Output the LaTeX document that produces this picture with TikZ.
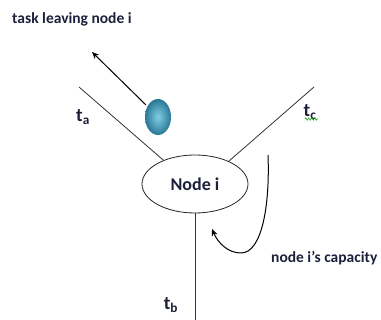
\documentclass[tikz,border=0pt]{standalone}
\usepackage{fontspec}
\setmainfont{Carlito}
\usetikzlibrary{shapes.geometric,arrows.meta,decorations.pathmorphing}
\definecolor{txt}{RGB}{28,32,58}
\definecolor{balldark}{RGB}{40,120,150}
\definecolor{balllight}{RGB}{130,205,228}
\definecolor{spell}{RGB}{40,160,40}
\tikzset{
  lbl/.style={font=\fontsize{15.5}{17}\selectfont\bfseries, text=txt, inner sep=0pt},
  tlbl/.style={font=\fontsize{19}{22}\selectfont\bfseries, text=txt, inner sep=0pt},
  edge/.style={draw=black!80, line width=0.8pt},
  arr/.style={draw=black, line width=1pt, -{Stealth[length=7pt,width=6pt]}},
}
\begin{document}
\begin{tikzpicture}[x=1pt,y=-1pt]
\useasboundingbox (0,0) rectangle (381,320);
% main node
\node[ellipse, draw=black!85, line width=0.8pt, minimum width=106pt, minimum height=58pt, inner sep=0pt,
      font=\fontsize{18}{20}\selectfont\bfseries, text=txt] (n) at (195,184) {Node i};
% free ends
\coordinate (ta1) at (79,87);
\coordinate (tc1) at (314,87);
\coordinate (tb1) at (195,320);
\draw[edge] (ta1) -- (n.143);
\draw[edge] (tc1) -- (n.34);
\draw[edge] (n.south) -- (tb1);
% labels
\node[tlbl] (ta) at (83,117) {t\textsubscript{a}};
\node[tlbl] (tc) at (310,112) {t\textsubscript{c}};
\node[tlbl] (tb) at (171,305) {t\textsubscript{b}};
\coordinate (sq1) at (305,119);
\coordinate (sq2) at (318,119);
\draw[spell, line width=0.6pt, decorate, decoration={zigzag, amplitude=1.2pt, segment length=3pt}] (sq1) -- (sq2);
% ball
\node[ellipse, minimum width=26pt, minimum height=36pt, inner sep=0pt,
      shading=radial, inner color=balllight, outer color=balldark] (ball) at (158,117) {};
\coordinate (tip) at (92,52);
\draw[arr, shorten <=2pt] (ball.135) -- (tip);
\node[lbl, anchor=west] (title) at (12,19) {task leaving node i};
% capacity arrow
\coordinate (c0) at (268,155);
\coordinate (c1) at (241,253);
\coordinate (c2) at (212,229);
\draw[draw=black, line width=1pt] (c0) .. controls (270,205) and (262,253) .. (c1);
\draw[arr] (c1) .. controls (228,253) and (218,243) .. (c2);
\node[lbl, anchor=west] (cap) at (271,258) {node i’s capacity};
\end{tikzpicture}
\end{document}
